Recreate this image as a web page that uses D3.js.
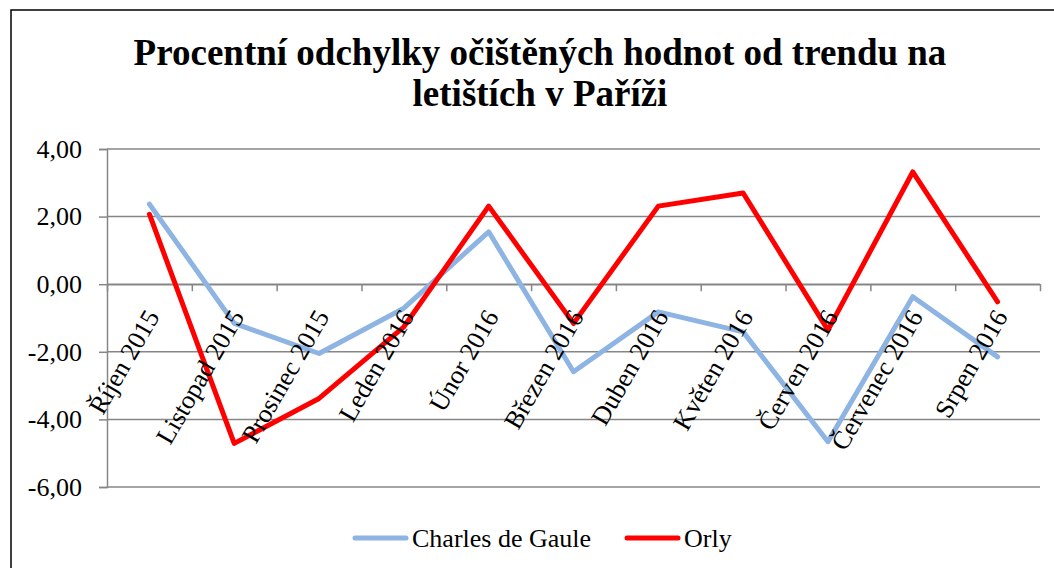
<!DOCTYPE html>
<html>
<head>
<meta charset="utf-8">
<script src="https://cdnjs.cloudflare.com/ajax/libs/d3/7.8.5/d3.min.js"></script>
<style>
  body { margin: 0; background: #fff; }
  svg text { font-family: "Times New Roman", "Liberation Serif", serif; }
</style>
</head>
<body>
<div id="chart"></div>
<script>
// data
const months = ['Říjen 2015', 'Listopad 2015', 'Prosinec 2015', 'Leden 2016', 'Únor 2016',
    'Březen 2016', 'Duben 2016', 'Květen 2016', 'Červen 2016', 'Červenec 2016', 'Srpen 2016'];
const cdgValues = [2.37, -1.16, -2.05, -0.71, 1.55, -2.59, -0.82, -1.41, -4.66, -0.37, -2.15];
const orlyValues = [2.07, -4.71, -3.38, -1.26, 2.31, -1.16, 2.31, 2.70, -1.36, 3.32, -0.52];
const yTicks = [-6, -4, -2, 0, 2, 4];
const titleLines = ['Procentní odchylky očištěných hodnot od trendu na', 'letištích v Paříži'];
const seriesNames = ['Charles de Gaule', 'Orly'];

const width = 1054;
const height = 568;
const plot = {left: 107, right: 1040, top: 149, bottom: 487};
const colors = ['#8db4e2', '#ff0000'];
const gridColor = '#868686';
const serif = '"Times New Roman", "Liberation Serif", serif';

const svg = d3.select('#chart')
  .append('svg')
    .attr('width', width)
    .attr('height', height);

// chart area border (runs off the right and bottom of the picture)
svg.append('rect')
    .attr('x', 11)
    .attr('y', 10)
    .attr('width', 1100)
    .attr('height', 600)
    .attr('fill', '#fff')
    .attr('stroke', '#000')
    .attr('stroke-width', 1.5);

// title
svg.append('g')
  .selectAll('text')
  .data(titleLines)
  .enter()
  .append('text')
    .attr('x', 540)
    .attr('y', (d, i) => 65 + i * 41)
    .attr('text-anchor', 'middle')
    .attr('font-family', serif)
    .style('font-size', '37px')
    .style('font-weight', 'bold')
    .text(d => d);

const x = d3.scaleBand()
    .domain(months)
    .range([plot.left, plot.right])
    .padding(0);
const xIndex = d3.scaleLinear()
    .domain([0, months.length])
    .range([plot.left, plot.right]);
const y = d3.scaleLinear()
    .domain([-6, 4])
    .range([plot.bottom, plot.top]);

// gridlines
svg.append('g')
    .classed('grid', true)
  .selectAll('line')
  .data(yTicks)
  .enter()
  .append('line')
    .attr('x1', plot.left)
    .attr('x2', plot.right)
    .attr('y1', d => y(d))
    .attr('y2', d => y(d))
    .attr('stroke', gridColor)
    .attr('stroke-width', 1.5);

// y axis
const yAxis = svg.append('g')
    .attr('transform', `translate(${plot.left},0)`)
    .call(d3.axisLeft(y)
        .tickValues(yTicks)
        .tickSize(8)
        .tickPadding(17)
        .tickFormat(d => d3.format('.2f')(d).replace('.', ',').replace('\u2212', '-')));
yAxis.attr('font-family', serif);
yAxis.select('.domain').attr('stroke', gridColor).attr('stroke-width', 1.5);
yAxis.selectAll('.tick line').attr('stroke', gridColor).attr('stroke-width', 1.5);
yAxis.selectAll('.tick text')
    .attr('fill', '#000')
    .attr('font-family', serif)
    .style('font-size', '26px');

// category axis on the zero line
const xAxis = svg.append('g')
    .attr('transform', `translate(0,${y(0)})`)
    .call(d3.axisBottom(xIndex)
        .tickValues(d3.range(months.length + 1))
        .tickSize(7)
        .tickSizeOuter(0)
        .tickFormat(''));
xAxis.select('.domain').attr('stroke', gridColor).attr('stroke-width', 1.5);
xAxis.selectAll('.tick line').attr('stroke', gridColor).attr('stroke-width', 1.5);

// lines
const line = d3.line()
    .x((d, i) => x(months[i]) + x.bandwidth() / 2)
    .y(d => y(d));

[cdgValues, orlyValues].forEach((vals, k) => {
    svg.append('path')
        .datum(vals)
        .attr('fill', 'none')
        .attr('stroke', colors[k])
        .attr('stroke-width', 5)
        .attr('stroke-linejoin', 'round')
        .attr('stroke-linecap', 'round')
        .attr('d', line);
});

// rotated category labels (drawn over the lines as in the original)
svg.append('g')
  .selectAll('text')
  .data(months)
  .enter()
  .append('text')
    .attr('transform', d => `translate(${x(d) + x.bandwidth() / 2 + 3},312) rotate(-60)`)
    .attr('text-anchor', 'end')
    .attr('dy', '0.35em')
    .attr('font-family', serif)
    .style('font-size', '26px')
    .text(d => d);

// legend
const legendItems = [
    {name: seriesNames[0], color: colors[0], x: 353},
    {name: seriesNames[1], color: colors[1], x: 625}
];
const legend = svg.append('g').selectAll('g')
    .data(legendItems)
    .enter()
    .append('g')
    .attr('transform', d => `translate(${d.x},538)`);
legend.append('line')
    .attr('x1', 2)
    .attr('x2', 53)
    .attr('stroke', d => d.color)
    .attr('stroke-width', 5)
    .attr('stroke-linecap', 'round');
legend.append('text')
    .attr('x', 59)
    .attr('dy', '0.33em')
    .attr('font-family', serif)
    .style('font-size', '26px')
    .text(d => d.name);
</script>
</body>
</html>
